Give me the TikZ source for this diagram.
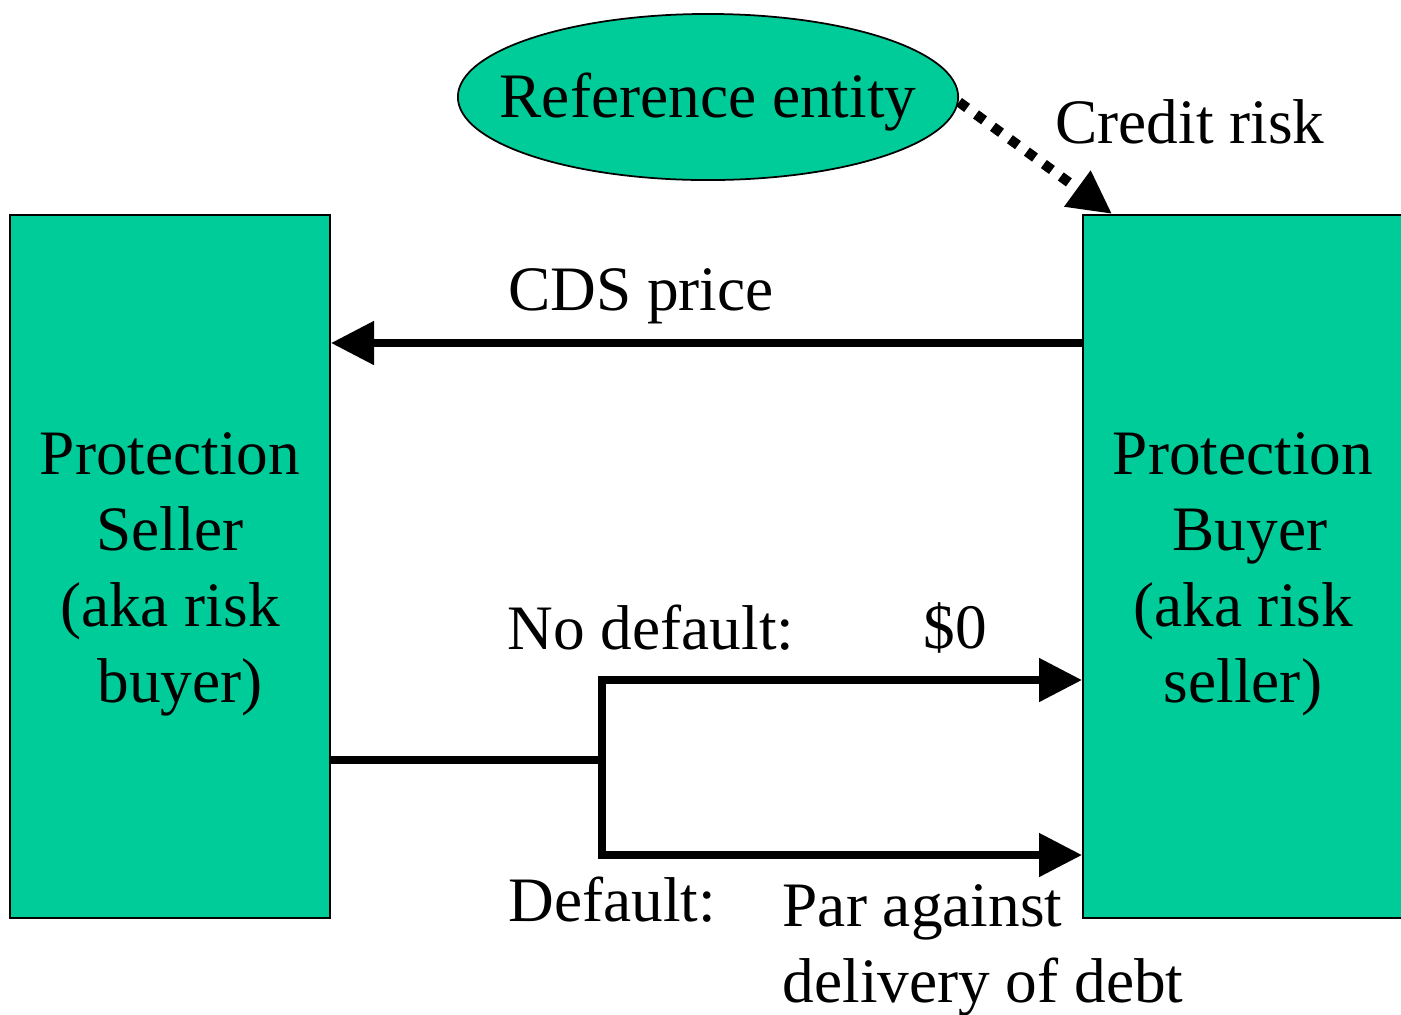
\documentclass[tikz,border=0pt]{standalone}
\usepackage{fontspec}
\setmainfont{Liberation Serif}
\usepackage{tikz}
\usetikzlibrary{arrows.meta,shapes.geometric}
\definecolor{party}{RGB}{0,204,153}
\newcommand{\bigtext}{\fontsize{18}{21.6}\selectfont}
\tikzset{
  partybox/.style={draw,line width=0.5pt,fill=party,minimum width=3.2cm,minimum height=7.03cm,inner sep=0pt},
  boxtext/.style={align=center,font=\bigtext,inner sep=0pt},
  flow/.style={line width=0.08cm,-{Triangle[length=0.43cm,width=0.42cm]}},
  label/.style={font=\bigtext,inner sep=0pt}
}

\begin{document}
\begin{tikzpicture}[x=0.01cm,y=-0.01cm]
\useasboundingbox (0,0) rectangle (1401,1014);
\node[partybox] (seller) at (170,566.5) {};
\node[partybox] (buyer) at (1243,566.5) {};
\node[boxtext] (sellertext) at ([yshift=-0.08cm]seller.center) {Protection\\Seller\\(aka risk\\\hspace{0.2cm}buyer)};
\node[boxtext] (buyertext) at ([yshift=-0.08cm]buyer.center) {Protection\\\hspace{0.14cm}Buyer\\(aka risk\\seller)};
\node[ellipse,draw,line width=0.5pt,fill=party,minimum width=5cm,minimum height=1.66cm,inner sep=0pt,font=\bigtext,text height=0.55cm,text depth=0.14cm] (ref) at (708,97) {\makebox[0pt]{Reference entity}};
\coordinate (cds) at (700,343);
\coordinate (fork) at (602,760);
\coordinate (forktop) at (602,680);
\coordinate (forkbot) at (602,855);
\draw[flow,dash pattern=on 0.1cm off 0.11cm,line width=0.1cm] ([yshift=-0.05cm]ref.east) -- ([xshift=0.3cm]buyer.north west);
\draw[flow] (buyer.west |- cds) -- (seller.east |- cds);
\draw[line width=0.08cm] (seller.east |- fork) -- (fork);
\draw[line width=0.08cm,{Triangle[length=0.43cm,width=0.42cm]}-{Triangle[length=0.43cm,width=0.42cm]}] (buyer.west |- forktop) -- (forktop) -- (forkbot) -- (buyer.west |- forkbot);
\node[label] (credit) at (1190,122) {Credit risk};
\node[label] (price) at (641,296) {CDS price};
\node[label,anchor=west] (nodef) at (507,628) {No default:};
\node[label] (zero) at (955,628) {\$0};
\node[label,anchor=west] (def) at (508,900) {Default:};
\node[label,anchor=north west,align=left] (par) at (782,884) {Par against\\delivery of debt};
\end{tikzpicture}
\end{document}
